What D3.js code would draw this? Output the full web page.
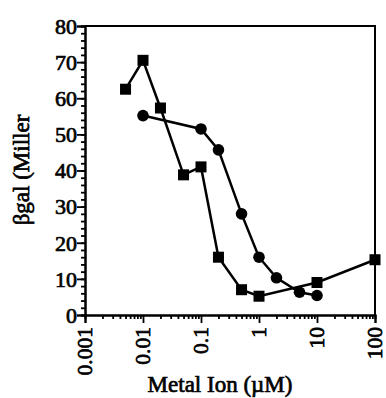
<!DOCTYPE html>
<html><head><meta charset="utf-8">
<script src="https://cdn.jsdelivr.net/npm/d3@7"></script>
<style>body{margin:0;background:#fff}svg{display:block}</style>
</head><body>
<script>
const squareX = [0.005, 0.01, 0.02, 0.05, 0.1, 0.2, 0.5, 1, 10, 100];
const squareY = [62.5, 70.5, 57.3, 38.8, 41, 16, 7, 5.2, 9, 15.3];
const circleX = [0.01, 0.1, 0.2, 0.5, 1, 2, 5, 10];
const circleY = [55.2, 51.5, 45.7, 28, 16, 10.3, 6.3, 5.4];
const yTicks = [0, 10, 20, 30, 40, 50, 60, 70, 80];
const xTicks = [0.001, 0.01, 0.1, 1, 10, 100];
const xTickLabels = ["0.001", "0.01", "0.1", "1", "10", "100"];

const W = 386, H = 398;
const svg = d3.select("body").append("svg").attr("width", W).attr("height", H);
const x = d3.scaleLog().domain([0.001, 100]).range([85, 375]);
const y = d3.scaleLinear().domain([0, 80]).range([315, 26]);
const font = "'Liberation Serif', 'Times New Roman', serif";

function styleText(sel, size) {
  sel.attr("font-family", font).attr("font-size", size).attr("font-weight", "normal")
    .attr("fill", "#000").attr("stroke", "#000").attr("stroke-width", 0.7);
}

// frame (top and right)
svg.append("path").attr("d", `M${x(0.001)},${y(80)}H${x(100)}V${y(0)}`)
  .attr("fill", "none").attr("stroke", "#000").attr("stroke-width", 2);

// y axis
const yMinor = d3.range(0, 81, 2);
const yAx = svg.append("g").attr("transform", `translate(${x(0.001)},0)`);
yAx.call(d3.axisLeft(y).tickValues(yMinor).tickSize(4).tickFormat(""));
yAx.append("g").call(d3.axisLeft(y).tickValues(yTicks).tickSize(8).tickFormat(d3.format("d")));
yAx.selectAll("path.domain").attr("stroke-width", 2);
yAx.selectAll("line").attr("stroke-width", 1.8);
styleText(yAx.selectAll("text"), 22);
yAx.selectAll("text").attr("x", -8).attr("dy", "0.33em");

// x axis
const xMinor = [];
for (let e = -3; e < 2; e++) for (let k = 2; k <= 9; k++) xMinor.push(k * Math.pow(10, e));
const xAx = svg.append("g").attr("transform", `translate(0,${y(0)})`);
xAx.call(d3.axisBottom(x).tickValues(xMinor).tickSize(4).tickFormat(""));
xAx.append("g").call(d3.axisBottom(x).tickValues(xTicks).tickSize(8).tickFormat((d, i) => xTickLabels[i]));
xAx.selectAll("path.domain").attr("stroke-width", 2);
xAx.selectAll("line").attr("stroke-width", 1.8);
styleText(xAx.selectAll("text"), 21.5);
xAx.selectAll("text")
  .attr("transform", "rotate(-90)").attr("text-anchor", "end")
  .attr("x", -12).attr("y", 0).attr("dy", "0.3em");

// lines
const line = d3.line().x(d => x(d[0])).y(d => y(d[1]));
const sq = squareX.map((v, i) => [v, squareY[i]]);
const ci = circleX.map((v, i) => [v, circleY[i]]);
svg.append("path").datum(sq).attr("d", line).attr("fill", "none").attr("stroke", "#000").attr("stroke-width", 2.5);
svg.append("path").datum(ci).attr("d", line).attr("fill", "none").attr("stroke", "#000").attr("stroke-width", 2.5);
svg.selectAll("rect.sq").data(sq).join("rect").attr("class", "sq")
  .attr("x", d => x(d[0]) - 5.5).attr("y", d => y(d[1]) - 5.5).attr("width", 11).attr("height", 11).attr("fill", "#000");
svg.selectAll("circle.ci").data(ci).join("circle").attr("class", "ci")
  .attr("cx", d => x(d[0])).attr("cy", d => y(d[1])).attr("r", 5.8).attr("fill", "#000");

// axis titles
const xt = svg.append("text").attr("text-anchor", "middle").attr("x", 220).attr("y", 392).text("Metal Ion (\u00b5M)");
styleText(xt, 23);
const yt = svg.append("text").attr("text-anchor", "middle").attr("transform", "translate(29,170) rotate(-90)").text("\u03b2gal (Miller");
styleText(yt, 23);
</script>
</body></html>
